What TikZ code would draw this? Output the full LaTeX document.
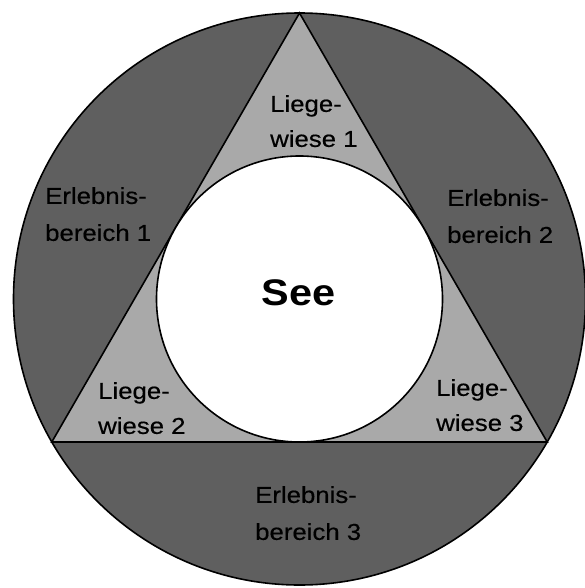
\documentclass[tikz,border=0pt]{standalone}
\usepackage{fontspec}
\setmainfont{Liberation Sans}[FakeStretch=1.12,FakeBold=0.4,BoldFeatures={FakeBold=0}]
\definecolor{darkzone}{HTML}{5F5F5F}
\definecolor{lightzone}{HTML}{A9A9A9}
\begin{document}
\begin{tikzpicture}[x=1pt,y=-1pt,
  outline/.style={draw=black,line width=1.6pt},
  zonelabel/.style={anchor=north west,inner sep=0pt,align=left,font=\fontsize{23}{37}\selectfont},
  meadowlabel/.style={anchor=north west,inner sep=0pt,align=left,font=\fontsize{23}{35}\selectfont}]
\useasboundingbox (0,0) rectangle (584,588);
\coordinate (c) at (299.5,299);
\fill[white] (0,0) rectangle (584,588);
% outer ring
\draw[outline,fill=darkzone] (c) circle[radius=286];
% inscribed triangle
\path (c) ++(0,-286) coordinate (top);
\path (c) ++(-247.7,143) coordinate (bl);
\path (c) ++(247.7,143) coordinate (br);
\draw[outline,fill=lightzone,line join=miter] (top) -- (bl) -- (br) -- cycle;
% lake
\draw[outline,fill=white] (c) circle[radius=143];
\node[inner sep=0pt,font=\fontsize{37}{40}\selectfont\bfseries] (see) at (298.5,293) {See};
\node[zonelabel] (e1) at (45,187) {Erlebnis-\\bereich 1};
\node[zonelabel] (e2) at (447,189) {Erlebnis-\\bereich 2};
\node[zonelabel] (e3) at (255,486) {Erlebnis-\\bereich 3};
\node[meadowlabel] (l1) at (270,95) {Liege-\\wiese 1};
\node[meadowlabel] (l2) at (98,382) {Liege-\\wiese 2};
\node[meadowlabel] (l3) at (436,379) {Liege-\\wiese 3};
\end{tikzpicture}
\end{document}
